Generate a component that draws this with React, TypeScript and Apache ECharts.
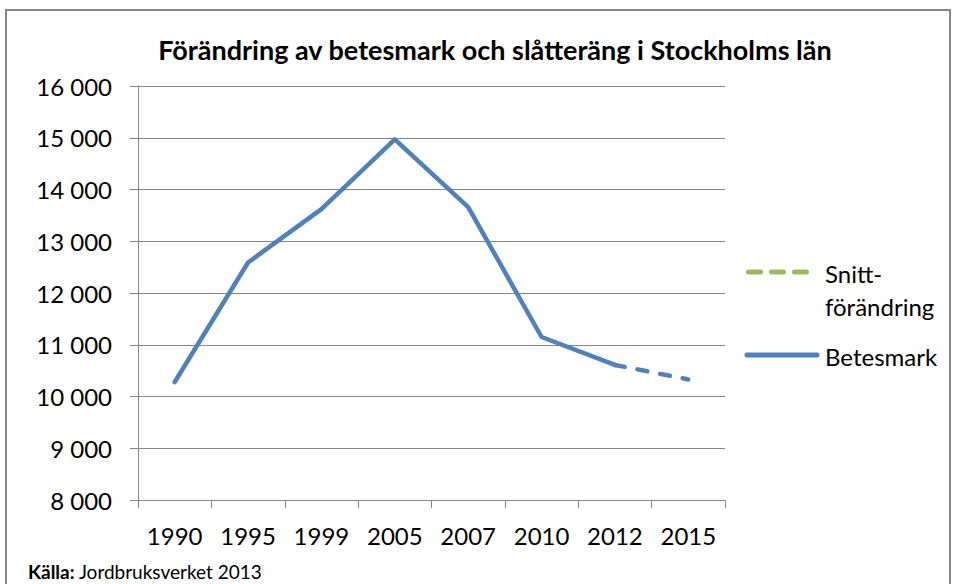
import React, { useEffect, useRef } from "react";
import * as echarts from "echarts";

const years = ["1990", "1995", "1999", "2005", "2007", "2010", "2012", "2015"];
const betesmark = [10280, 12590, 13620, 14970, 13660, 11150, 10610, null];
const betesmarkTrend = [null, null, null, null, null, null, 10610, 10330];
const legendLines = ["Snitt-", "förändring"];
const legendBetes = "Betesmark";
const titleText = "Förändring av betesmark och slåtteräng i Stockholms län";
const sourceLabel = "Källa:";
const sourceText = " Jordbruksverket 2013";

const FONT = "Lato, 'Open Sans', sans-serif";
const BLUE = "#4F81BD";
const GREEN = "#9BBB59";
const GRAY = "#868686";

export default function App() {
  const ref = useRef<HTMLDivElement>(null);
  useEffect(() => {
    const chart = echarts.init(ref.current!, null, { renderer: "svg" });
    chart.setOption({
      animation: false,
      backgroundColor: "#fff",
      textStyle: { fontFamily: FONT },
      title: {
        text: titleText,
        left: 490,
        textAlign: "center",
        top: 31,
        textStyle: { fontFamily: FONT, fontWeight: "bold", fontSize: 27, color: "#000" },
      },
      grid: { left: 138, right: 231, top: 86, bottom: 84 },
      xAxis: {
        type: "category",
        data: years,
        boundaryGap: true,
        axisLine: { lineStyle: { color: GRAY, width: 1 } },
        axisTick: { show: true, length: 8, inside: false, lineStyle: { color: GRAY } },
        axisLabel: { color: "#000", fontSize: 24, fontFamily: FONT, margin: 23 },
      },
      yAxis: {
        type: "value",
        min: 8000,
        max: 16000,
        interval: 1000,
        axisLine: { show: true, lineStyle: { color: GRAY, width: 1 } },
        axisTick: { show: true, length: 8, lineStyle: { color: GRAY } },
        splitLine: { lineStyle: { color: GRAY, width: 1 } },
        axisLabel: {
          color: "#000",
          fontSize: 24,
          fontFamily: FONT,
          margin: 26,
          formatter: (v: number) => String(v).replace(/\B(?=(\d{3})+(?!\d))/g, " "),
        },
      },
      series: [
        {
          name: "Betesmark",
          type: "line",
          data: betesmark,
          symbol: "none",
          connectNulls: false,
          lineStyle: { color: BLUE, width: 4.5, cap: "round", join: "round" },
          itemStyle: { color: BLUE },
        },
        {
          name: "Betesmark trend",
          type: "line",
          data: betesmarkTrend,
          symbol: "none",
          lineStyle: { color: BLUE, width: 4.5, type: [10, 13], cap: "round", join: "round" },
          itemStyle: { color: BLUE },
        },
      ],
      graphic: [
        {
          type: "rect",
          shape: { x: 6, y: 10, width: 944, height: 590 },
          style: { fill: "none", stroke: GRAY, lineWidth: 2 },
          silent: true,
        },
        {
          type: "line",
          shape: { x1: 748.5, y1: 272, x2: 806.5, y2: 272 },
          style: { stroke: GREEN, lineWidth: 5, lineDash: [12, 11], lineCap: "round" },
        },
        {
          type: "text",
          x: 825,
          y: 273,
          style: { text: legendLines[0], font: `24px ${FONT}`, fill: "#000", verticalAlign: "middle" },
        },
        {
          type: "text",
          x: 825,
          y: 306,
          style: { text: legendLines[1], font: `24px ${FONT}`, fill: "#000", verticalAlign: "middle" },
        },
        {
          type: "line",
          shape: { x1: 747, y1: 355, x2: 817, y2: 355 },
          style: { stroke: BLUE, lineWidth: 5, lineCap: "round" },
        },
        {
          type: "text",
          x: 825,
          y: 356,
          style: { text: legendBetes, font: `24px ${FONT}`, fill: "#000", verticalAlign: "middle" },
        },
        {
          type: "text",
          x: 28,
          y: 571,
          style: {
            text: `{b|${sourceLabel}}{r|${sourceText}}`,
            verticalAlign: "middle",
            rich: {
              b: { fontFamily: FONT, fontSize: 19, fontWeight: "bold", fill: "#000" },
              r: { fontFamily: FONT, fontSize: 19, fill: "#000" },
            },
          },
        },
      ],
    });
    return () => chart.dispose();
  }, []);
  return <div ref={ref} style={{ position: "fixed", left: 0, top: 0, width: 956, height: 584 }} />;
}
